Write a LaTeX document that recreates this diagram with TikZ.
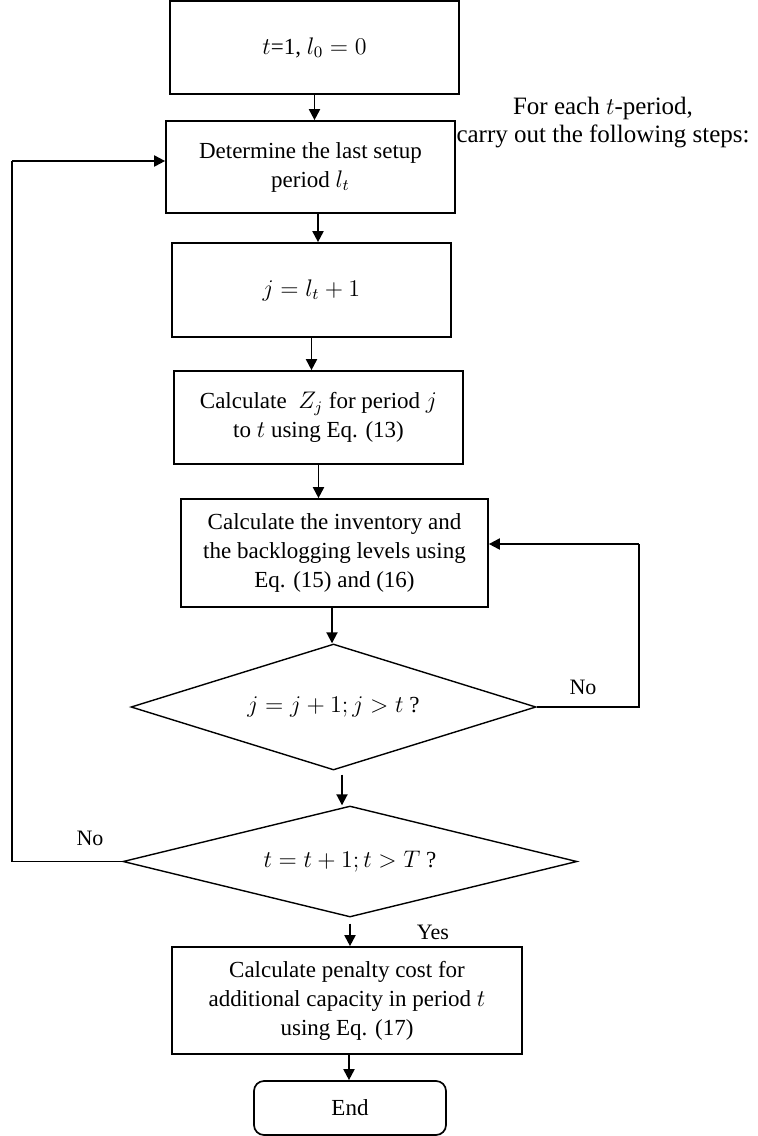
\documentclass[tikz,border=0pt]{standalone}
\usepackage{fontspec}
\setmainfont{Liberation Serif}
\usetikzlibrary{arrows.meta}
\usetikzlibrary{shapes.geometric, positioning}

\begin{document}
\begin{tikzpicture}[x=0.5pt,y=-0.5pt,
		every node/.style={font=\fontsize{11}{14}\selectfont},
		box/.style={draw, line width=0.85pt, align=center, inner sep=0pt, font=\fontsize{11.5}{14.5}\selectfont},
		decision/.style={draw, diamond, line width=0.7pt, inner sep=0pt, font=\fontsize{11.5}{14.5}\selectfont},
		arr/.style={line width=0.95pt, -{Triangle[length=5.5pt,width=5.5pt]}},
		loopline/.style={line width=0.55pt}]
		\useasboundingbox (0,0) rectangle (757,1136);
		\node[box, minimum width=144.5pt, minimum height=46.5pt] (init) at (314.5,47.5) {$t$=1, $l_0=0$};
		\node[box, minimum width=144.5pt, minimum height=46pt] (setup) at (310.5,167) {Determine the last setup\\period $l_t$};
		\node[box, minimum width=139.5pt, minimum height=47pt] (jset) at (311.5,290) {$j=l_t+1$};
		\node[box, minimum width=144.5pt, minimum height=46.5pt] (calcz) at (318.5,417.5) {Calculate \ $Z_j$ for period $j$\\to $t$ using Eq. (13)};
		\node[box, minimum width=153.5pt, minimum height=54pt] (inv) at (334.5,553) {Calculate the inventory and\\the backlogging levels using\\Eq. (15) and (16)};
		\node[decision, aspect=3.2, minimum width=202.5pt, minimum height=63pt] (testj) at (333.5,707) {$j=j+1; j>t$ ?};
		\node[decision, aspect=4.1, minimum width=227pt, minimum height=55.5pt] (testt) at (350,861.5) {$t=t+1; t>T$ ?};
		\node[box, minimum width=175pt, minimum height=53.5pt] (penalty) at (347,1000.5) {Calculate penalty cost for\\additional capacity in period $t$\\using Eq. (17)};
		\node[box, rounded corners=5pt, minimum width=96pt, minimum height=27pt] (stop) at (350,1108) {End};
		\node[align=center, font=\fontsize{12.5}{14}\selectfont] (note) at (603,123) {For each $t$-period,\\carry out the following steps:};
		\node (noj) at (583,687) {No};
		\node (not) at (90,838) {No};
		\node (yes) at (433,932) {Yes};
		\coordinate (backj) at (639,544);
		\coordinate (backt) at (12,161);
		\draw[arr] (init.south) -- (init.south |- setup.north);
		\draw[arr] ([xshift=3.75pt]setup.south) -- ([xshift=3.75pt]setup.south |- jset.north);
		\draw[arr] (jset.south) -- (jset.south |- calcz.north);
		\draw[arr] (calcz.south) -- (calcz.south |- inv.north);
		\draw[arr] ([xshift=-1.25pt]inv.south) -- ([xshift=-1.25pt]inv.south |- testj.north);
		\draw[arr] ([xshift=4.25pt,yshift=-2pt]testj.south) -- ([xshift=4.25pt]testj.south |- testt.north);
		\draw[arr] ([yshift=-3pt]testt.south) -- (testt.south |- penalty.north);
		\draw[arr] ([xshift=1pt]penalty.south) -- ([xshift=1pt]penalty.south |- stop.north);
		\draw[loopline] (testj.east) -| (backj);
		\draw[arr] (backj) -- (backj -| inv.east);
		\draw[loopline] (testt.west) -| (backt);
		\draw[arr] (backt) -- (backt -| setup.west);
		\end{tikzpicture}
\end{document}
